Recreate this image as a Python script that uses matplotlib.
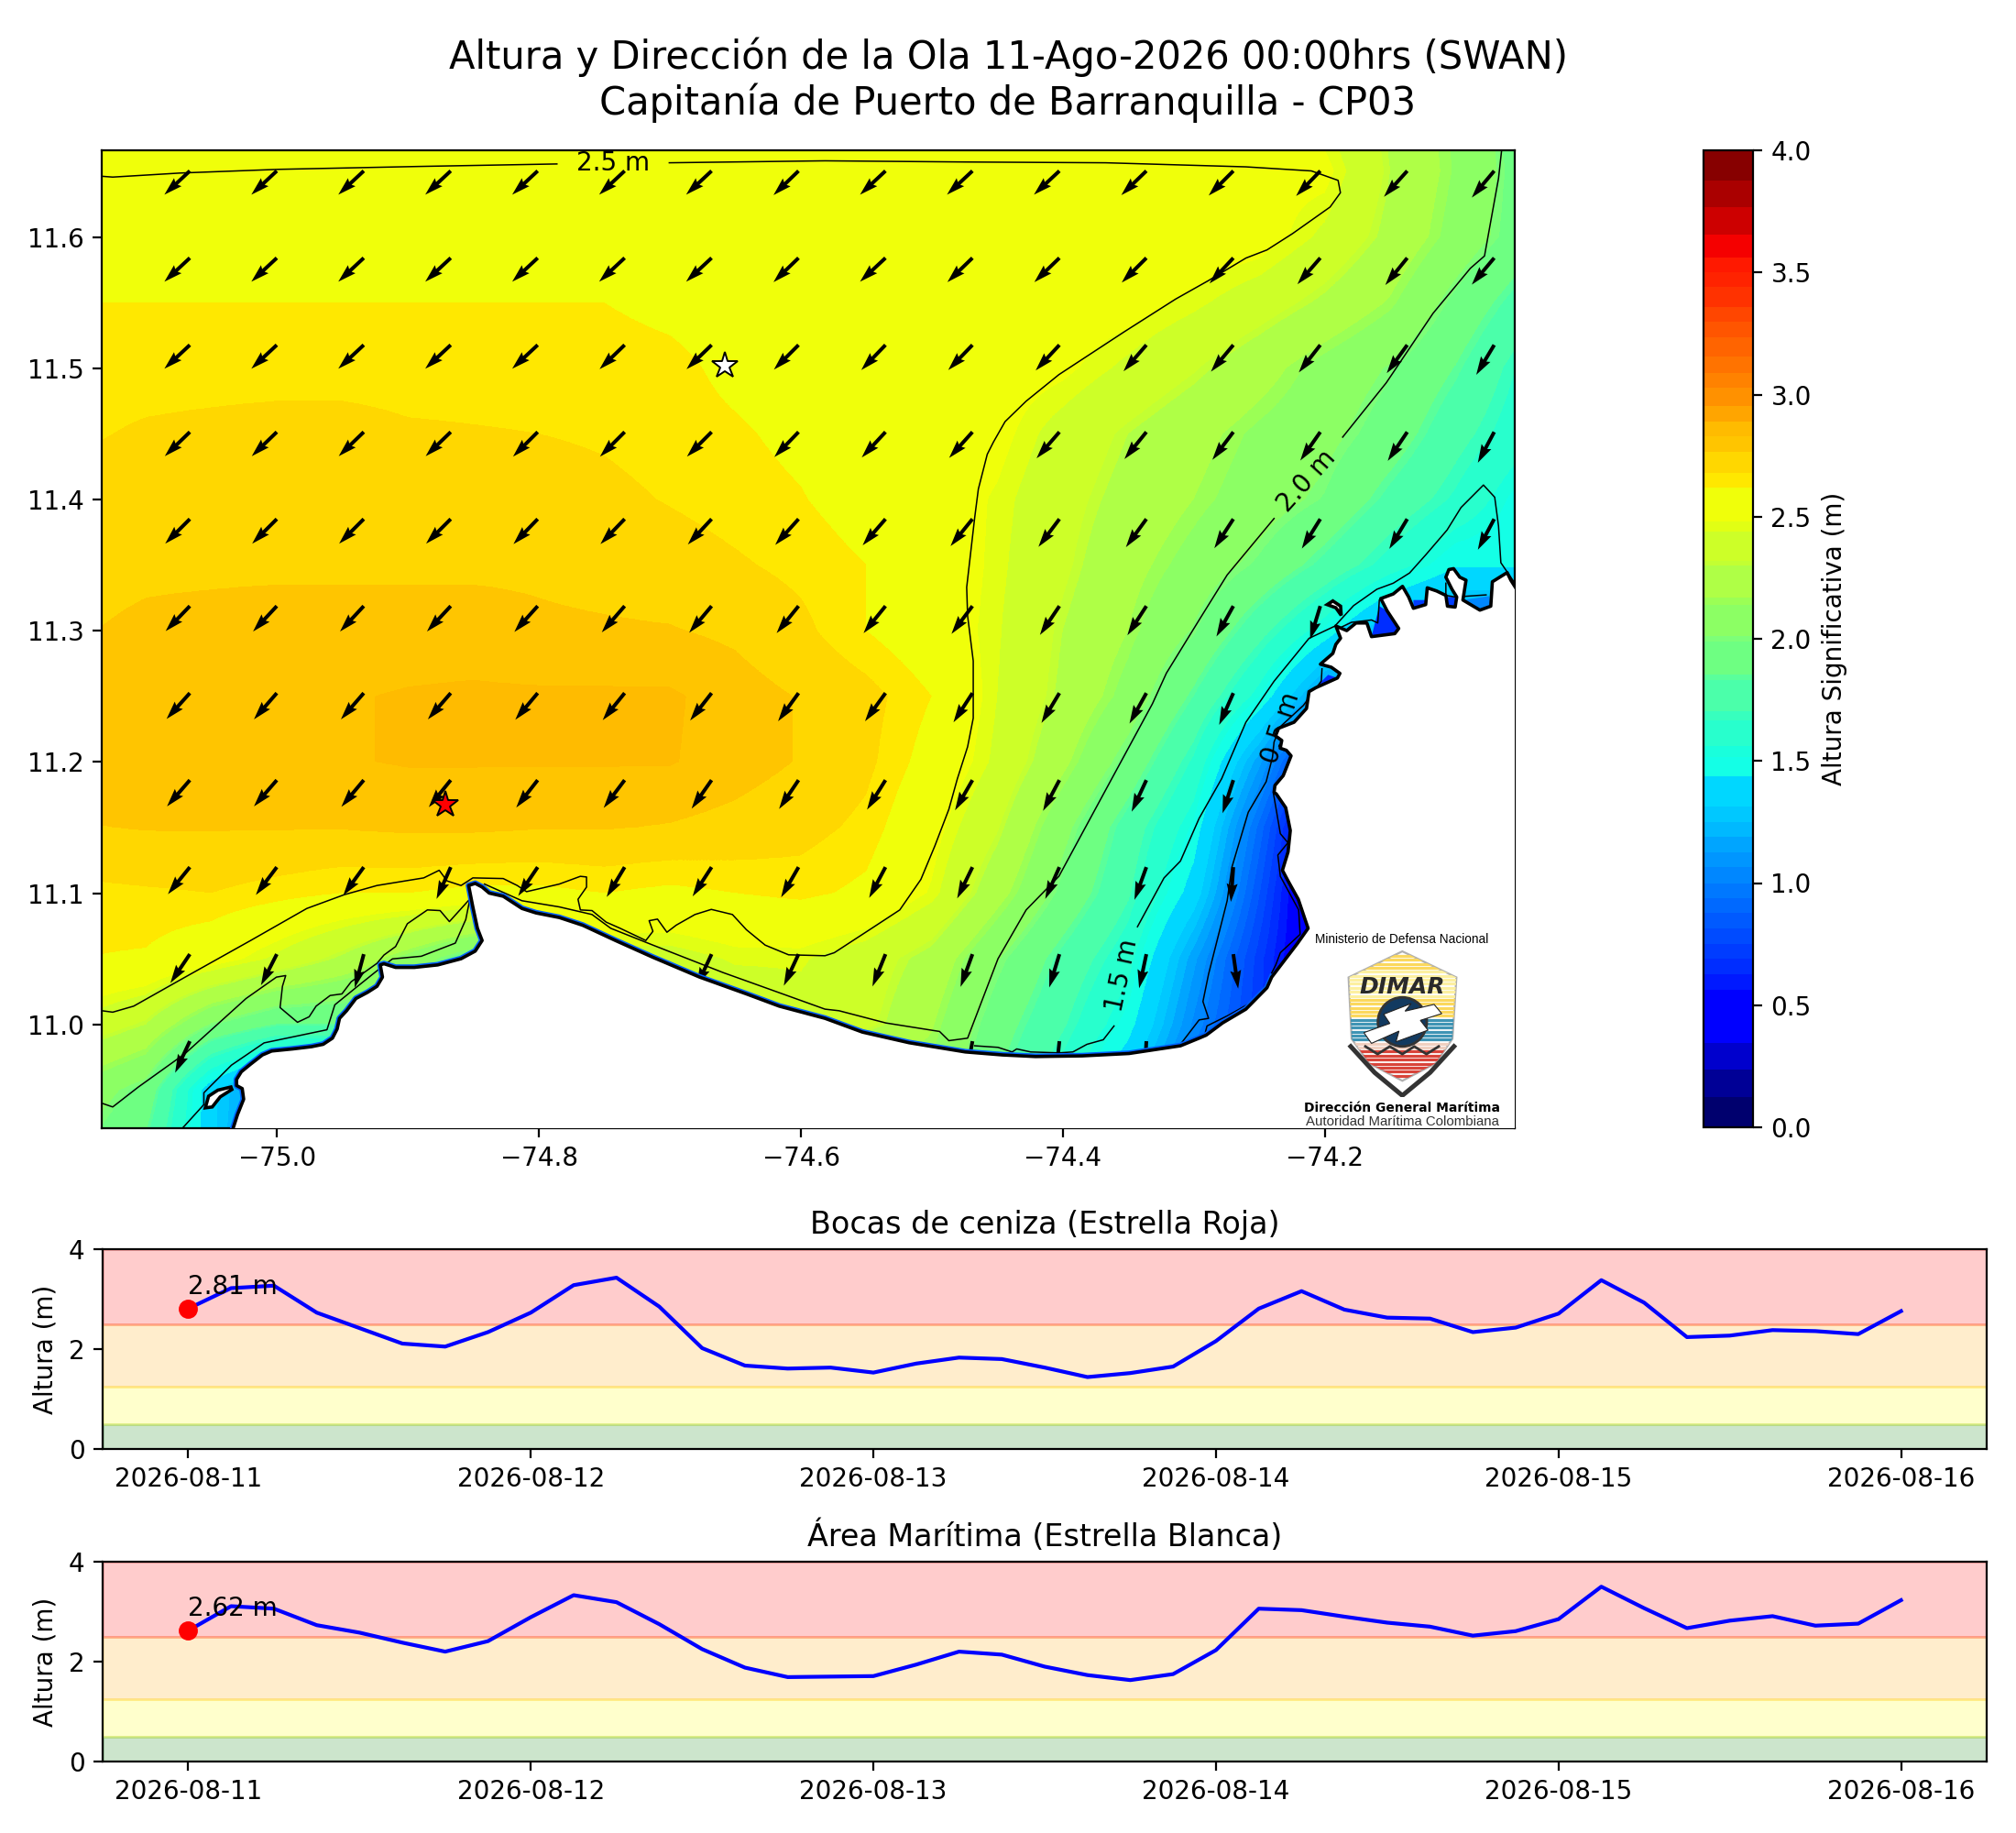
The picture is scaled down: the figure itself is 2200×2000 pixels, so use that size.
#!/usr/bin/env python3
# -*- coding: utf-8 -*-
"""
Mapa de altura de ola (SWAN) con series de tiempo, CP03 Barranquilla
"""

import numpy as np
import pandas as pd
import matplotlib as mpl
mpl.use('Agg')
import matplotlib.pyplot as plt
import matplotlib.dates as mdates
from matplotlib.patches import Polygon

W, H = 2200, 2000

# color bands of the colorbar
band_bounds = [0, .123, .238, .344, .563, .626, .689, .751, .814, .877, .939, 1.0, 1.064, 1.127, 1.19, 1.25,
               1.315, 1.436, 1.517, 1.56, 1.667, 1.705, 1.83, 1.855, 1.987, 2.01, 2.14, 2.17, 2.30, 2.32, 2.44,
               2.48, 2.62, 2.68, 2.765, 2.83, 2.888, 2.953, 3.03, 3.09, 3.155, 3.235, 3.297, 3.357, 3.44, 3.50,
               3.56, 3.655, 3.767, 3.877, 4.0]
band_rgb = [(0, 0, 110), (0, 0, 150), (0, 0, 205), (0, 0, 255), (0, 25, 255), (0, 45, 255), (0, 60, 255),
            (0, 75, 255), (0, 90, 255), (0, 105, 255), (0, 120, 255), (0, 135, 255), (0, 150, 255), (0, 165, 255),
            (0, 185, 255), (0, 200, 255), (0, 215, 255), (20, 255, 230), (25, 255, 220), (40, 255, 205),
            (55, 255, 190), (75, 255, 170), (90, 255, 155), (110, 255, 130), (125, 255, 120), (140, 255, 100),
            (155, 255, 85), (175, 255, 70), (195, 255, 50), (205, 255, 40), (225, 255, 20), (240, 255, 10),
            (255, 232, 0), (255, 215, 0), (255, 197, 0), (255, 187, 0), (255, 165, 0), (255, 145, 0),
            (255, 130, 0), (255, 115, 0), (255, 100, 0), (255, 85, 0), (255, 70, 0), (255, 50, 0), (255, 35, 0),
            (255, 25, 0), (245, 0, 0), (205, 0, 0), (170, 0, 0), (135, 0, 0)]

# significant wave height, rows 11.70 -> 10.90, columns -75.15 -> -74.05
hs_field = [
    [2.42, 2.42, 2.42, 2.42, 2.42, 2.50, 2.50, 2.50, 2.50, 2.50, 2.50, 2.50, 2.50, 2.50, 2.50, 2.50, 2.50, 2.50, 2.49, 2.42, 2.28, 2.12, 1.92],
    [2.51, 2.51, 2.51, 2.51, 2.51, 2.51, 2.51, 2.51, 2.51, 2.51, 2.51, 2.51, 2.51, 2.51, 2.51, 2.51, 2.51, 2.51, 2.51, 2.51, 2.30, 2.13, 1.94],
    [2.58, 2.58, 2.58, 2.58, 2.58, 2.58, 2.58, 2.58, 2.58, 2.58, 2.58, 2.58, 2.58, 2.58, 2.58, 2.58, 2.57, 2.56, 2.53, 2.42, 2.27, 2.10, 1.93],
    [2.62, 2.62, 2.62, 2.62, 2.62, 2.62, 2.62, 2.62, 2.62, 2.60, 2.58, 2.57, 2.56, 2.56, 2.55, 2.54, 2.52, 2.46, 2.38, 2.28, 2.16, 1.96, 1.78],
    [2.65, 2.65, 2.65, 2.65, 2.65, 2.65, 2.65, 2.65, 2.65, 2.64, 2.60, 2.57, 2.56, 2.55, 2.53, 2.50, 2.42, 2.33, 2.22, 2.10, 2.00, 1.85, 1.65],
    [2.67, 2.69, 2.70, 2.71, 2.71, 2.69, 2.685, 2.68, 2.67, 2.65, 2.63, 2.60, 2.57, 2.54, 2.51, 2.40, 2.30, 2.21, 2.12, 2.05, 1.93, 1.75, 1.60],
    [2.71, 2.72, 2.72, 2.72, 2.72, 2.72, 2.72, 2.72, 2.70, 2.675, 2.65, 2.625, 2.58, 2.54, 2.47, 2.36, 2.26, 2.17, 2.08, 1.98, 1.80, 1.65, 1.48],
    [2.74, 2.75, 2.75, 2.75, 2.75, 2.75, 2.75, 2.75, 2.735, 2.72, 2.69, 2.66, 2.62, 2.56, 2.46, 2.34, 2.21, 2.10, 1.97, 1.80, 1.62, 1.45, 1.45],
    [2.76, 2.78, 2.79, 2.80, 2.80, 2.80, 2.80, 2.78, 2.775, 2.77, 2.75, 2.70, 2.62, 2.55, 2.45, 2.30, 2.17, 2.00, 1.75, 1.50, 1.20, 1.10, 1.10],
    [2.82, 2.82, 2.82, 2.82, 2.825, 2.835, 2.84, 2.84, 2.84, 2.84, 2.80, 2.76, 2.71, 2.62, 2.44, 2.28, 2.10, 1.83, 1.52, 1.10, 1.00, 1.00, 1.00],
    [2.82, 2.82, 2.82, 2.82, 2.825, 2.835, 2.835, 2.835, 2.835, 2.835, 2.80, 2.76, 2.70, 2.58, 2.42, 2.20, 1.95, 1.65, 1.15, 0.55, 0.50, 0.50, 0.50],
    [2.76, 2.77, 2.77, 2.77, 2.77, 2.78, 2.78, 2.77, 2.77, 2.76, 2.74, 2.71, 2.66, 2.52, 2.33, 2.05, 1.78, 1.50, 0.92, 0.30, 0.30, 0.30, 0.30],
    [2.66, 2.67, 2.68, 2.65, 2.62, 2.62, 2.60, 2.60, 2.62, 2.60, 2.62, 2.64, 2.60, 2.47, 2.22, 1.96, 1.72, 1.38, 0.82, 0.25, 0.25, 0.25, 0.25],
    [2.62, 2.61, 2.54, 2.42, 2.28, 2.10, 1.90, 2.30, 2.40, 2.40, 2.45, 2.45, 2.38, 2.26, 2.02, 1.80, 1.60, 1.15, 0.72, 0.30, 0.30, 0.30, 0.30],
    [2.42, 2.30, 2.00, 1.85, 1.85, 1.90, 1.90, 2.30, 2.30, 2.30, 2.35, 2.40, 2.35, 2.18, 1.92, 1.72, 1.48, 1.05, 0.70, 0.40, 0.40, 0.40, 0.40],
    [2.10, 1.95, 1.35, 1.00, 1.00, 1.90, 1.90, 1.90, 1.90, 1.90, 1.90, 1.90, 1.90, 2.10, 1.85, 1.60, 1.30, 0.90, 0.60, 0.50, 0.50, 0.50, 0.50],
    [2.00, 1.80, 1.35, 0.90, 1.00, 1.90, 1.90, 1.90, 1.90, 1.90, 1.90, 1.90, 1.90, 2.10, 1.85, 1.60, 1.30, 0.90, 0.60, 0.50, 0.50, 0.50, 0.50],
]

# wave direction, degrees west of south; rows 11.65 -> 10.99, columns -75.07 -> -74.07
nan = float('nan')
wave_dir = [
    [47, 47, 47, 47, 47, 47, 47, 46, 47, 47, 47, 46, 45, 44, 42, 40],
    [47, 47, 47, 47, 47, 47, 47, 46, 47, 46, 46, 45, 43, 41, 39, 40],
    [47, 47, 47, 47, 47, 46, 46, 45, 44, 44, 43, 41, 40, 38, 36, 31],
    [46, 46, 46, 46, 45, 45, 45, 44, 43, 42, 41, 39, 37, 35, 34, 28],
    [45, 45, 45, 45, 44, 44, 43, 42, 41, 39, 37, 36, 33, 32, 31, 28],
    [44, 43, 43, 43, 42, 41, 40, 39, 39, 37, 34, 33, 29, 17, nan, nan],
    [42, 41, 41, 41, 40, 39, 38, 36, 36, 33, 31, 29, 24, nan, nan, nan],
    [41, 41, 40, 39, 38, 37, 35, 34, 32, 30, 28, 25, 18, nan, nan, nan],
    [39, 37, 36, 24, 34, 31, 33, 30, 28, 26, 24, 20, 4, nan, nan, nan],
    [34, 27, 15, nan, nan, nan, 25, 25, 22, 20, 17, 12, -8, nan, nan, nan],
    [25, nan, nan, nan, nan, nan, nan, nan, nan, 10, 6, 3, nan, nan, nan, nan],
]

# coastline from the south west corner to the east edge
coast_lon = [-75.0335, -75.0303, -75.0256, -75.0267, -75.0310, -75.0310, -75.0274, -75.0203, -75.0113, -75.0042,
             -74.9881, -74.9738, -74.9649, -74.9578, -74.9542, -74.9524, -74.9470, -74.9399, -74.9310, -74.9238,
             -74.9196, -74.9213, -74.9185, -74.9096, -74.8953, -74.8774, -74.8596, -74.8488, -74.8435, -74.8471,
             -74.8506, -74.8538, -74.8488, -74.8435, -74.8381, -74.8274, -74.8131, -74.8024, -74.7846, -74.7667,
             -74.7417, -74.7131, -74.6774, -74.6417, -74.6167, -74.5817, -74.5531, -74.5174, -74.4746, -74.4460,
             -74.4210, -74.3853, -74.3496, -74.3102, -74.2960, -74.2906, -74.2781, -74.2603, -74.2442, -74.2406,
             -74.2299, -74.2210, -74.2128, -74.2156, -74.2203, -74.2281, -74.2324, -74.2281, -74.2264, -74.2299,
             -74.2371, -74.2388, -74.2381, -74.2318, -74.2258, -74.2294, -74.2341, -74.2329, -74.2377, -74.2353,
             -74.2235, -74.2140, -74.2121, -74.2069, -74.1904, -74.1885, -74.1951, -74.2034, -74.1939, -74.1916,
             -74.1880, -74.1916, -74.1833, -74.1762, -74.1679, -74.1644, -74.1466, -74.1436, -74.1525, -74.1573,
             -74.1478, -74.1407, -74.1360, -74.1324, -74.1230, -74.1218, -74.1147, -74.1076, -74.1064, -74.1005,
             -74.0993, -74.1029, -74.1076, -74.1053, -74.1017, -74.0970, -74.0922, -74.0946, -74.0816, -74.0733,
             -74.0721, -74.0608, -74.0580, -74.0513]
coast_lat = [10.9214, 10.9314, 10.9431, 10.9512, 10.9535, 10.9582, 10.9640, 10.9698, 10.9768, 10.9798,
             10.9814, 10.9831, 10.9849, 10.9896, 10.9966, 11.0047, 11.0105, 11.0198, 11.0245, 11.0291,
             11.0361, 11.0454, 11.0463, 11.0435, 11.0435, 11.0454, 11.0501, 11.0559, 11.0640, 11.0733,
             11.0896, 11.1059, 11.1075, 11.1047, 11.1001, 11.0977, 11.0884, 11.0850, 11.0815, 11.0756,
             11.0640, 11.0512, 11.0361, 11.0233, 11.0140, 11.0047, 10.9942, 10.9861, 10.9791, 10.9768,
             10.9756, 10.9761, 10.9779, 10.9838, 10.9896, 10.9919, 11.0012, 11.0117, 11.0280, 11.0361,
             11.0501, 11.0617, 11.0733, 11.0815, 11.0954, 11.1094, 11.1175, 11.1315, 11.1478, 11.1652,
             11.1757, 11.1768, 11.1822, 11.1896, 11.2047, 11.2089, 11.2105, 11.2164, 11.2199, 11.2257,
             11.2303, 11.2408, 11.2536, 11.2566, 11.2640, 11.2675, 11.2722, 11.2745, 11.2827, 11.2896,
             11.2943, 11.3036, 11.3001, 11.3059, 11.3059, 11.2955, 11.2978, 11.3017, 11.3152, 11.3245,
             11.3280, 11.3338, 11.3257, 11.3171, 11.3199, 11.3327, 11.3303, 11.3269, 11.3187, 11.3180,
             11.3257, 11.3315, 11.3408, 11.3466, 11.3473, 11.3408, 11.3385, 11.3234, 11.3157, 11.3187,
             11.3373, 11.3443, 11.3385, 11.3280]

islet_a_lon = [-75.0549, -75.0496, -75.0435, -75.0346, -75.0353, -75.0453, -75.0524]
islet_a_lat = [10.9365, 10.9372, 10.9449, 10.9505, 10.9524, 10.9500, 10.9454]
islet_b_lon = [-74.1982, -74.1939, -74.1880, -74.1875, -74.1916]
islet_b_lat = [11.3199, 11.3227, 11.3187, 11.3117, 11.3175]

# shallow pockets in the bays of the east coast
pockets = [
    ([(-74.1644, 11.2955), (-74.1584, 11.3187), (-74.1525, 11.3152), (-74.1436, 11.3017), (-74.1466, 11.2978)], '#002dff'),
    ([(-74.1324, 11.3171), (-74.1324, 11.3234), (-74.1223, 11.3234), (-74.1230, 11.3199)], '#003cff'),
    ([(-74.1064, 11.3187), (-74.1064, 11.3257), (-74.0993, 11.3257), (-74.1005, 11.3180)], '#003cff'),
    ([(-74.0946, 11.3234), (-74.0745, 11.3264), (-74.0733, 11.3187), (-74.0816, 11.3157)], '#0087ff'),
    ([(-74.1975, 11.2664), (-74.1904, 11.2640), (-74.2069, 11.2566), (-74.2022, 11.2617)], '#002dff'),
]

# isolines, traced
iso_25a = [(-75.1338, 11.6462), (-75.1256, 11.6456), (-75.0738, 11.6487), (-74.9988, 11.6515), (-74.8917, 11.6537),
           (-74.7864, 11.6556)]
iso_25b = [(-74.7006, 11.6565), (-74.5817, 11.6580), (-74.4746, 11.6571), (-74.3674, 11.6565), (-74.2603, 11.6534),
           (-74.2103, 11.6503), (-74.1899, 11.6431), (-74.1881, 11.6337), (-74.1960, 11.6228), (-74.2246, 11.6026),
           (-74.2442, 11.5901), (-74.2603, 11.5839), (-74.2888, 11.5668), (-74.3139, 11.5527), (-74.3531, 11.5278),
           (-74.4031, 11.4951), (-74.4281, 11.4749), (-74.4442, 11.4593), (-74.4531, 11.4437), (-74.4578, 11.4344),
           (-74.4646, 11.4079), (-74.4674, 11.3861), (-74.4735, 11.3331), (-74.4728, 11.3113), (-74.4685, 11.2770),
           (-74.4685, 11.2334), (-74.4728, 11.2116), (-74.4806, 11.1873), (-74.4871, 11.1640), (-74.4978, 11.1361),
           (-74.5085, 11.1105), (-74.5246, 11.0873), (-74.5460, 11.0733), (-74.5746, 11.0547), (-74.5817, 11.0524),
           (-74.6095, 11.0531), (-74.6274, 11.0605), (-74.6417, 11.0722), (-74.6524, 11.0838), (-74.6685, 11.0877),
           (-74.6810, 11.0838), (-74.6953, 11.0757), (-74.7024, 11.0703), (-74.7096, 11.0803), (-74.7160, 11.0791),
           (-74.7131, 11.0710), (-74.7185, 11.0640), (-74.7381, 11.0733), (-74.7488, 11.0780), (-74.7596, 11.0868),
           (-74.7685, 11.0873), (-74.7703, 11.0954), (-74.7638, 11.1047), (-74.7638, 11.1124), (-74.7685, 11.1129),
           (-74.7846, 11.1070), (-74.8096, 11.1012), (-74.8167, 11.1059), (-74.8274, 11.1112), (-74.8506, 11.1117),
           (-74.8596, 11.1059), (-74.8703, 11.1094), (-74.8763, 11.1175), (-74.8881, 11.1117), (-74.9238, 11.1059),
           (-74.9488, 11.0989), (-74.9774, 11.0884), (-75.0203, 11.0640), (-75.0703, 11.0361), (-75.1096, 11.0140),
           (-75.1256, 11.0094), (-75.1338, 11.0105)]
iso_20a = [(-74.0649, 11.6671), (-74.0674, 11.6446), (-74.0781, 11.5855), (-74.0889, 11.5761), (-74.1174, 11.5418),
           (-74.1531, 11.4889), (-74.1864, 11.4475)]
iso_20b = [(-74.2388, 11.3855), (-74.2746, 11.3425), (-74.2960, 11.3082), (-74.3210, 11.2677), (-74.3317, 11.2443),
           (-74.3627, 11.1873), (-74.4031, 11.1129), (-74.4281, 11.0873), (-74.4496, 11.0501), (-74.4728, 10.9896),
           (-74.4871, 10.9877), (-74.4942, 10.9947), (-74.5353, 11.0012), (-74.5710, 11.0105), (-74.5817, 11.0117),
           (-74.6238, 11.0268), (-74.6596, 11.0396), (-74.7131, 11.0605), (-74.7453, 11.0733), (-74.7596, 11.0838),
           (-74.7846, 11.0896), (-74.8131, 11.0943), (-74.8417, 11.1070)]
iso_20c = [(-74.8531, 11.0954), (-74.8685, 11.0784), (-74.8756, 11.0868), (-74.8853, 11.0873), (-74.9006, 11.0768),
           (-74.9096, 11.0594), (-74.9185, 11.0529), (-74.9238, 11.0466), (-74.9435, 11.0326), (-74.9506, 11.0233),
           (-74.9596, 11.0221), (-74.9703, 11.0140), (-74.9756, 11.0059), (-74.9845, 11.0017), (-74.9978, 11.0129),
           (-74.9960, 11.0291), (-74.9935, 11.0373), (-75.0006, 11.0361), (-75.0238, 11.0198), (-75.0703, 10.9779),
           (-75.1060, 10.9524), (-75.1256, 10.9372), (-75.1338, 10.9400)]
iso_15a = [(-74.0560, 11.3378), (-74.0656, 11.3518), (-74.0674, 11.3798), (-74.0703, 11.4017), (-74.0789, 11.4110),
           (-74.0960, 11.3939), (-74.1067, 11.3767), (-74.1228, 11.3580), (-74.1353, 11.3440), (-74.1478, 11.3362),
           (-74.1603, 11.3316), (-74.1781, 11.3191), (-74.1924, 11.3035), (-74.2121, 11.2942), (-74.2388, 11.2615),
           (-74.2603, 11.2303), (-74.2788, 11.1873), (-74.2960, 11.1571), (-74.3103, 11.1245), (-74.3228, 11.1117),
           (-74.3431, 11.0745)]
iso_15b = [(-74.3610, 10.9989), (-74.3692, 10.9884), (-74.3817, 10.9849), (-74.3924, 10.9791), (-74.4031, 10.9784),
           (-74.4246, 10.9791), (-74.4353, 10.9814), (-74.4388, 10.9791), (-74.4496, 10.9826), (-74.4674, 10.9838)]
iso_15c = [(-75.0720, 10.9214), (-75.0560, 10.9390), (-75.0560, 10.9480), (-75.0350, 10.9690), (-75.0100, 10.9860),
           (-74.9620, 10.9960), (-74.9560, 11.0150), (-74.9400, 11.0280), (-74.9250, 11.0400), (-74.9120, 11.0500),
           (-74.8900, 11.0520), (-74.8640, 11.0620), (-74.8560, 11.0800), (-74.8530, 11.0950)]
iso_10a = [(-74.2022, 11.2710), (-74.2027, 11.2617), (-74.2164, 11.2431), (-74.2341, 11.2268), (-74.2388, 11.2152),
           (-74.2400, 11.2036), (-74.2448, 11.1850), (-74.2585, 11.1617), (-74.2710, 11.1198), (-74.2746, 11.0943),
           (-74.2888, 11.0384), (-74.2931, 11.0175), (-74.2888, 11.0047), (-74.2960, 11.0035), (-74.3103, 10.9849)]
iso_10b = [(-74.1904, 11.3013), (-74.1797, 11.3064), (-74.1644, 11.3082), (-74.1596, 11.3059), (-74.1584, 11.3234)]
iso_10c = [(-74.1076, 11.3362), (-74.1076, 11.3269), (-74.1005, 11.3257), (-74.0769, 11.3273)]
iso_05 = [(-74.2392, 11.1757), (-74.2340, 11.1454), (-74.2282, 11.1385), (-74.2359, 11.1291), (-74.2340, 11.1129),
          (-74.2200, 11.0873), (-74.2189, 11.0687), (-74.2340, 11.0547), (-74.2375, 11.0454), (-74.2457, 11.0291),
          (-74.2550, 11.0175), (-74.2737, 11.0070), (-74.2900, 10.9989), (-74.2912, 10.9942)]
isolines = [iso_25a, iso_25b, iso_20a, iso_20b, iso_20c, iso_15a, iso_15b, iso_15c, iso_10a, iso_10b, iso_10c, iso_05]

# time series, every 3 h
bocas_hs = [2.81, 3.22, 3.27, 2.73, 2.42, 2.11, 2.05, 2.34, 2.73, 3.28, 3.43, 2.85, 2.02, 1.67, 1.61, 1.63, 1.53,
            1.71, 1.83, 1.80, 1.63, 1.44, 1.52, 1.65, 2.16, 2.81, 3.16, 2.79, 2.63, 2.61, 2.34, 2.43, 2.71, 3.38,
            2.93, 2.24, 2.27, 2.38, 2.36, 2.30, 2.76]
area_hs = [2.62, 3.11, 3.06, 2.73, 2.58, 2.38, 2.20, 2.41, 2.89, 3.33, 3.19, 2.75, 2.25, 1.88, 1.69, 1.70, 1.71,
           1.94, 2.20, 2.14, 1.90, 1.73, 1.63, 1.75, 2.23, 3.06, 3.03, 2.90, 2.78, 2.70, 2.52, 2.61, 2.85, 3.50,
           3.07, 2.67, 2.82, 2.91, 2.72, 2.76, 3.23]
alert_levels = [0, 0.5, 1.25, 2.5, 4]
alert_colors = ['green', 'yellow', 'orange', 'red']


def px_axes(fig, left, top, right, bottom, **kw):
    return fig.add_axes([left / W, 1 - bottom / H, (right - left) / W, (bottom - top) / H], **kw)


def draw_logo(fig):
    ax = px_axes(fig, 1450, 1033, 1610, 1197)
    ax.set_xlim(150, 630)
    ax.set_ylim(590, 100)
    ax.axis('off')
    shield = [(391, 115), (568, 200), (555, 400), (500, 480), (391, 537), (282, 480), (225, 400), (215, 200)]
    clip = Polygon(shield, closed=True, fc='white', ec='#b0b0b0', lw=0.8, zorder=1)
    ax.add_patch(clip)
    for y in np.arange(130, 530, 13):
        if y < 330:
            col = '#fbd85d' if (y < 170 or y > 260) else '#fdf0a0'
        elif y < 415:
            col = '#3f94b4'
        elif y < 440:
            col = '#f0d0c0'
        else:
            col = '#d9443a'
        line = ax.hlines(y, 215, 568, color=col, lw=1.15, zorder=2)
        line.set_clip_path(clip)
    ax.add_patch(plt.Circle((391, 345), 80, fc='#123a60', ec='#333333', zorder=3))
    bolts = [(265, 380), (350, 350), (330, 320), (420, 285), (400, 310), (495, 288), (520, 318), (450, 340),
             (475, 372), (370, 410), (380, 375), (290, 415)]
    ax.add_patch(Polygon(bolts, closed=True, fc='white', ec='#222222', lw=0.4, zorder=4))
    ax.text(391, 232, 'DIMAR', color='#2a2a2a', fontsize=9, style='italic', weight='bold', ha='center', va='center',
            zorder=5)
    ax.plot([222, 300, 391, 482, 560], [425, 510, 585, 510, 425], color='#333333', lw=1.8, zorder=3)
    ax.plot([270, 310, 350, 391, 430, 470, 510], [425, 450, 425, 450, 425, 450, 425], color='#333333', lw=1, zorder=5)


fig = plt.figure(figsize=(W / 200, H / 200), dpi=200)

# map
ax = px_axes(fig, 111, 164, 1653, 1231)
cmap = mpl.colors.ListedColormap([tuple(c / 255 for c in rgb) for rgb in band_rgb])
norm = mpl.colors.BoundaryNorm(band_bounds, cmap.N)
im = ax.imshow(np.array(hs_field), extent=(-75.175, -74.025, 10.875, 11.725), origin='upper', aspect='auto',
               cmap=cmap, norm=norm, interpolation='bilinear', interpolation_stage='data', zorder=1)
ax.set_xlim(-75.134, -74.055)
ax.set_ylim(10.921, 11.666)

for pocket, col in pockets:
    ax.fill(*zip(*pocket), color=col, lw=0, zorder=1.5)
for iso in isolines:
    ax.plot(*zip(*iso), color='k', lw=0.55, zorder=2)
ax.text(-74.7435, 11.6565, '2.5 m', fontsize=10, ha='center', va='center', zorder=2)
ax.text(-74.2138, 11.4141, '2.0 m', fontsize=10, rotation=48, ha='center', va='center', zorder=2)
ax.text(-74.3549, 11.0373, '1.5 m', fontsize=10, rotation=78, ha='center', va='center', zorder=2)
ax.text(-74.2336, 11.2256, '0.5 m', fontsize=10, rotation=72, ha='center', va='center', zorder=2)

# arrows
dir_rad = np.radians(np.array(wave_dir, dtype=float))
qx, qy = np.meshgrid(-75.0667 + 0.0664 * np.arange(dir_rad.shape[1]), 11.6503 - 0.0663 * np.arange(dir_rad.shape[0]))
ax.quiver(qx, qy, -np.sin(dir_rad), -np.cos(dir_rad), units='inches', width=0.02, scale=1 / 0.19,
          scale_units='inches', color='k', zorder=3)

# land on top, thin shallow strip along the shore
ax.plot(coast_lon[:60], coast_lat[:60], color='#0060ff', lw=2.4, zorder=3.5)
land_lon = coast_lon + [-74.0, -74.0, -75.0335]
land_lat = coast_lat + [11.3, 10.9, 10.9]
ax.fill(land_lon, land_lat, color='white', lw=0, zorder=4)
ax.plot(coast_lon, coast_lat, color='k', lw=1.3, zorder=5)
ax.fill(islet_a_lon, islet_a_lat, fc='white', ec='k', lw=1.3, zorder=5)
ax.fill(islet_b_lon, islet_b_lat, fc='white', ec='k', lw=1.3, zorder=5)

ax.plot(-74.8714, 11.1675, marker='*', ms=10.5, mfc='red', mec='k', mew=0.7, ls='none', zorder=6)
ax.plot(-74.6585, 11.5020, marker='*', ms=10.5, mfc='white', mec='k', mew=0.7, ls='none', zorder=6)
ax.set_xticks([-75.0, -74.8, -74.6, -74.4, -74.2])
ax.set_yticks([11.0, 11.1, 11.2, 11.3, 11.4, 11.5, 11.6])

# logo texts
fig.text(1530 / W, 1 - 1025 / H, 'Ministerio de Defensa Nacional', fontsize=4.9, ha='center', va='center',
         family='Liberation Sans', zorder=8)
fig.text(1530 / W, 1 - 1209 / H, 'Dirección General Marítima', fontsize=5.0, weight='bold', ha='center', va='center',
         zorder=8)
fig.text(1530 / W, 1 - 1224 / H, 'Autoridad Marítima Colombiana', fontsize=5.4, ha='center', va='center',
         family='Liberation Sans', color='#333333', zorder=8)
draw_logo(fig)

# colorbar
cax = px_axes(fig, 1859, 164, 1913, 1230)
cb = fig.colorbar(mpl.cm.ScalarMappable(norm=norm, cmap=cmap), cax=cax, spacing='proportional',
                  ticks=np.arange(0, 4.5, 0.5), format='%.1f')
cb.set_label('Altura Significativa (m)', fontsize=10)
cb.ax.minorticks_off()

fig.text(0.5, 1 - 62 / H, 'Altura y Dirección de la Ola 11-Ago-2026 00:00hrs (SWAN)', fontsize=15, ha='center',
         va='center')
fig.text(0.5, 1 - 112 / H, 'Capitanía de Puerto de Barranquilla - CP03', fontsize=15, ha='center', va='center')

# series
times = pd.date_range('2026-08-11', periods=len(bocas_hs), freq='3h')
panels = [(1363, 1581, bocas_hs, 'Bocas de ceniza (Estrella Roja)', '2.81 m'),
          (1704, 1922, area_hs, 'Área Marítima (Estrella Blanca)', '2.62 m')]
for top, bottom, series, title, label in panels:
    axs = px_axes(fig, 112, top, 2168, bottom)
    for i, col in enumerate(alert_colors):
        axs.axhspan(alert_levels[i], alert_levels[i + 1], color=col, alpha=0.2)
    axs.plot(times, series, color='b')
    axs.plot(times[0], series[0], 'o', color='r', ms=6.5)
    axs.text(times[0], series[0] + 0.3, label, fontsize=10)
    axs.set_ylim(0, 4)
    axs.set_yticks([0, 2, 4])
    axs.set_ylabel('Altura (m)', fontsize=10)
    axs.set_title(title, fontsize=12)
    axs.xaxis.set_major_locator(mdates.DayLocator())
    axs.xaxis.set_major_formatter(mdates.DateFormatter('%Y-%m-%d'))

fig.savefig('out.png', dpi=200)
